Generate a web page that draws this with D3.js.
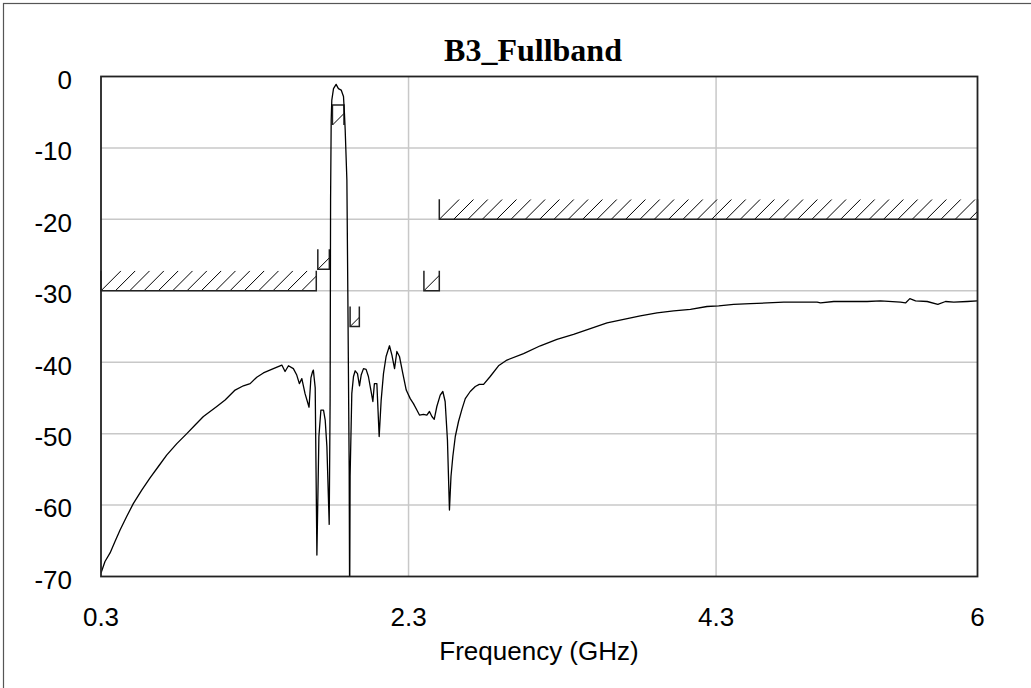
<!DOCTYPE html>
<html><head><meta charset="utf-8">
<script src="https://cdn.jsdelivr.net/npm/d3@7"></script>
<style>body{margin:0;background:#fff}svg{display:block}</style>
</head><body>
<svg id="c" width="1031" height="688"></svg>
<script>
const title = "B3_Fullband";
const xLabel = "Frequency (GHz)";
const xTicks = [0.3, 2.3, 4.3, 6];
const yTicks = [0, -10, -20, -30, -40, -50, -60, -70];

const freq = [0.300,0.326,0.359,0.391,0.424,0.467,0.510,0.565,0.619,0.673,0.727,0.793,0.858,0.912,0.966,1.053,1.107,1.172,1.226,1.270,1.313,1.356,1.421,1.476,1.497,1.519,1.551,1.573,1.590,1.606,1.627,1.653,1.665,1.676,1.681,1.693,1.704,1.717,1.730,1.747,1.758,1.769,1.784,1.790,1.793,1.797,1.801,1.812,1.829,1.844,1.862,1.877,1.883,1.888,1.899,1.905,1.914,1.917,1.920,1.931,1.942,1.953,1.968,1.981,1.992,2.007,2.024,2.039,2.055,2.068,2.078,2.094,2.109,2.122,2.137,2.154,2.176,2.192,2.209,2.224,2.241,2.263,2.285,2.311,2.332,2.354,2.371,2.397,2.419,2.436,2.452,2.467,2.484,2.506,2.523,2.538,2.553,2.566,2.576,2.588,2.604,2.625,2.647,2.669,2.701,2.734,2.760,2.788,2.831,2.885,2.940,3.048,3.157,3.265,3.373,3.482,3.591,3.699,3.807,3.916,4.024,4.133,4.241,4.317,4.414,4.523,4.632,4.740,4.848,4.957,4.979,5.065,5.174,5.282,5.369,5.499,5.532,5.560,5.597,5.673,5.742,5.792,5.846,5.933,6.000];
const s21 = [-69.5,-67.9,-66.7,-65.1,-63.5,-61.6,-59.8,-57.9,-56.2,-54.6,-53.0,-51.4,-50.0,-48.8,-47.6,-46.2,-45.3,-43.9,-43.3,-43.0,-42.1,-41.5,-40.9,-40.4,-41.3,-40.5,-40.9,-41.8,-43.0,-42.3,-44.4,-46.3,-42.2,-41.3,-41.1,-43.6,-67.0,-50.4,-46.7,-46.7,-48.1,-51.8,-62.7,-45.3,-17.3,-6.1,-3.3,-1.7,-1.1,-1.7,-1.9,-2.8,-5.1,-7.5,-14.5,-29.9,-55.1,-75.0,-56.0,-44.4,-42.0,-41.2,-41.6,-43.3,-41.8,-40.9,-41.0,-42.0,-43.9,-45.5,-43.0,-43.0,-50.4,-45.3,-41.6,-39.2,-37.7,-39.0,-40.9,-38.5,-39.2,-41.6,-43.9,-45.1,-45.8,-46.7,-47.4,-47.3,-47.4,-46.9,-47.6,-48.0,-46.2,-44.6,-44.1,-45.5,-50.9,-60.7,-56.0,-53.2,-50.4,-48.3,-46.6,-45.1,-44.1,-43.4,-43.1,-43.1,-42.0,-40.5,-39.7,-38.8,-37.7,-36.8,-36.1,-35.3,-34.5,-34.0,-33.5,-33.1,-32.8,-32.6,-32.2,-32.1,-31.9,-31.8,-31.7,-31.6,-31.6,-31.6,-31.7,-31.5,-31.5,-31.5,-31.4,-31.6,-31.7,-31.1,-31.4,-31.5,-31.9,-31.5,-31.6,-31.5,-31.4];

// Spec masks: upper limits (hatched above) and lower limits (hatched below)
const upperStart = [0.3, 1.71, 1.92, 2.4, 2.5];
const upperStop  = [1.7, 1.785, 1.98, 2.5, 6];
const upperLevel = [-30, -27, -35, -30, -20];
const lowerStart = [1.805];
const lowerStop  = [1.88];
const lowerLevel = [-4];

const L = 101, R = 977.5, T = 76.5, B = 576.5;
const svg = d3.select("#c");
const x = d3.scaleLinear().domain([0.3, 6]).range([L, R]);
const y = d3.scaleLinear().domain([-70, 0]).range([B, T]);

// outer border
svg.append("rect").attr("x", 3.5).attr("y", 3.5).attr("width", 1040).attr("height", 700)
  .attr("fill", "none").attr("stroke", "#555").attr("stroke-width", 1.2);

svg.append("defs").append("clipPath").attr("id", "plotclip")
  .append("rect").attr("x", L).attr("y", T).attr("width", R - L).attr("height", B - T);

// gridlines
const grid = svg.append("g").attr("stroke", "#c8c8c8").attr("stroke-width", 1.5);
grid.selectAll("line.h").data(yTicks.filter(d => d !== 0 && d !== -70)).join("line")
  .attr("x1", L).attr("x2", R).attr("y1", d => y(d)).attr("y2", d => y(d));
grid.selectAll("line.v").data(xTicks.filter(d => d !== 0.3 && d !== 6)).join("line")
  .attr("y1", T).attr("y2", B).attr("x1", d => x(d)).attr("x2", d => x(d));

// masks
const H = 20, SP = 14.33;
const masks = [];
upperStart.forEach((s, i) => masks.push({s, e: upperStop[i], v: upperLevel[i], dir: -1}));
lowerStart.forEach((s, i) => masks.push({s, e: lowerStop[i], v: lowerLevel[i], dir: 1}));
const mg = svg.append("g");
masks.forEach((m, i) => {
  const x0 = x(m.s), x1 = x(m.e), yl = y(m.v);
  const yo = yl + m.dir * H;
  const yb = m.dir < 0 ? yl : yo;
  const cid = "mclip" + i;
  svg.select("defs").append("clipPath").attr("id", cid)
    .append("rect").attr("x", x0).attr("y", Math.min(yl, yo)).attr("width", x1 - x0).attr("height", H);
  const starts = d3.range(x0, x1, SP);
  mg.append("g").attr("clip-path", `url(#${cid})`).selectAll("line").data(starts).join("line")
    .attr("x1", d => d).attr("y1", yb).attr("x2", d => d + H).attr("y2", yb - H)
    .attr("stroke", "#000").attr("stroke-width", 1);
  mg.append("path")
    .attr("d", `M${x0},${yo}L${x0},${yl}L${x1},${yl}L${x1},${yo}`)
    .attr("fill", "none").attr("stroke", "#222").attr("stroke-width", 1.5);
});

// curve
const pts = freq.map((f, i) => [f, s21[i]]);
svg.append("path").datum(pts).attr("clip-path", "url(#plotclip)")
  .attr("d", d3.line().x(d => x(d[0])).y(d => y(d[1])))
  .attr("fill", "none").attr("stroke", "#000").attr("stroke-width", 1.3).attr("stroke-linejoin", "round");

// frame
svg.append("rect").attr("x", L).attr("y", T).attr("width", R - L).attr("height", B - T)
  .attr("fill", "none").attr("stroke", "#222").attr("stroke-width", 1.8);

// tick labels
const font = "'Liberation Sans', Arial, sans-serif";
svg.append("g").selectAll("text").data(yTicks).join("text")
  .attr("x", 72).attr("y", d => y(d) + 12.3).attr("text-anchor", "end")
  .attr("font-family", font).attr("font-size", 26).attr("fill", "#000").text(d => d);
svg.append("g").selectAll("text").data(xTicks).join("text")
  .attr("x", d => x(d)).attr("y", 626).attr("text-anchor", "middle")
  .attr("font-family", font).attr("font-size", 26).attr("fill", "#000").text(d => d);

svg.append("text").attr("x", 539).attr("y", 660).attr("text-anchor", "middle")
  .attr("font-family", font).attr("font-size", 26).attr("fill", "#000").text(xLabel);
svg.append("text").attr("x", 533).attr("y", 61).attr("text-anchor", "middle")
  .attr("font-family", "'Liberation Serif', 'Times New Roman', serif").attr("font-weight", "bold")
  .attr("font-size", 32).attr("fill", "#000").text(title);
</script>
</body></html>
